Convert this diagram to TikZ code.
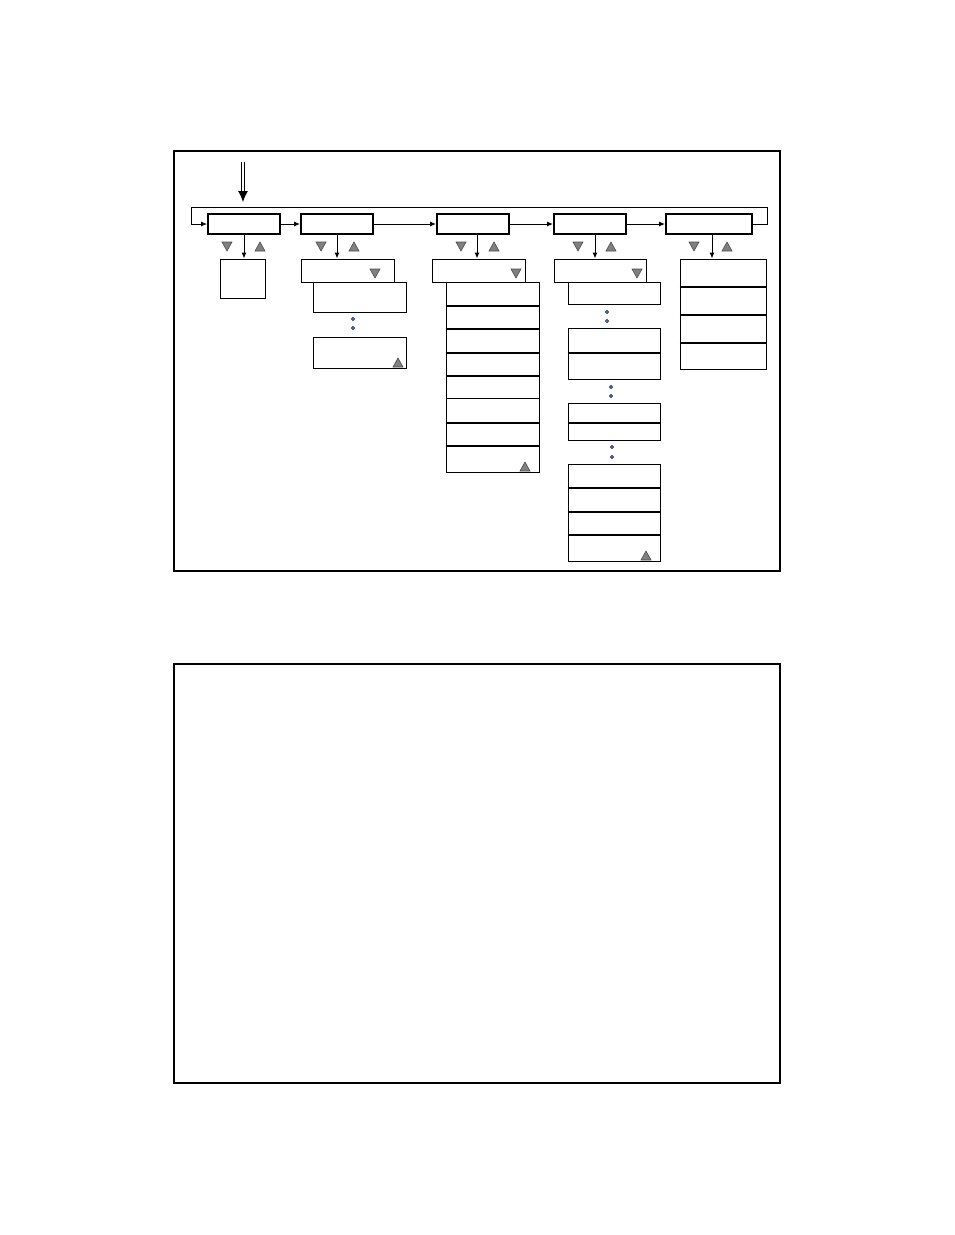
\documentclass[tikz,border=0pt]{standalone}
\usepackage{tikz}
\usetikzlibrary{arrows.meta}

\definecolor{trigray}{RGB}{128,128,128}
\definecolor{dotblue}{RGB}{70,100,170}

\tikzset{
  topbox/.style={draw, line width=2pt, inner sep=0pt},
  cell/.style={draw, line width=1pt, inner sep=0pt},
  divider/.style={line width=2pt},
  arr/.style={-{Latex[length=6pt,width=5pt]}, line width=1pt},
  tri/.style={fill=trigray, draw=black!70, line width=0.6pt},
  dot/.style={circle, fill=dotblue, draw=dotblue!60!black, line width=0.4pt, inner sep=0pt, minimum size=3.6pt},
}

% box node from its corners: style, name, x1, y1, x2, y2
\newcommand{\boxnode}[6]{%
  \node[#1, minimum width={(#5-#3)*1pt}, minimum height={(#6-#4)*1pt}] (#2) at ({(#3+#5)/2},{(#4+#6)/2}) {};}
% small grey triangles: x centre, top y
\newcommand{\tridown}[2]{\filldraw[tri] ({#1-5},{#2}) -- ({#1+5},{#2}) -- ({#1},{#2+9}) -- cycle;}
\newcommand{\triup}[2]{\filldraw[tri] ({#1-5},{#2+9}) -- ({#1+5},{#2+9}) -- ({#1},{#2}) -- cycle;}

\begin{document}
\begin{tikzpicture}[x=1pt,y=-1pt]
    \useasboundingbox (0,0) rectangle (954,1235);
    % frames
    \draw[line width=2pt] (174,151) rectangle (780,571);
    \draw[line width=2pt] (174,664) rectangle (780,1083);

    % top row
    \boxnode{topbox}{top1}{208}{214}{280}{234}
    \boxnode{topbox}{top2}{301}{214}{373}{234}
    \boxnode{topbox}{top3}{437}{214}{509}{234}
    \boxnode{topbox}{top4}{554}{214}{626}{234}
    \boxnode{topbox}{top5}{666}{214}{752}{234}
    \draw[arr] (top1) -- (top2);
    \draw[arr] (top2) -- (top3);
    \draw[arr] (top3) -- (top4);
    \draw[arr] (top4) -- (top5);

    % loop back and entry
    \coordinate (loopR) at (767,207);
    \coordinate (loopL) at (191,207);
    \draw[arr, line width=0.8pt] (top5.east) -| (loopR) -- (loopL) |- (top1.west);
    \coordinate (entry) at (243,162);
    \coordinate (entryend) at (243,202);
    \draw[double, double distance=2.2pt, line width=0.9pt, -{Latex[length=11pt,width=10pt]}] (entry) -- (entryend);

    % column 1
    \boxnode{cell}{sub1}{220}{259}{265}{298}
    \draw[arr] (top1.south) -- (top1.south |- sub1.north);
    \tridown{227}{242} \triup{260}{242}

    % column 2
    \boxnode{cell}{head2}{301}{259}{394}{282}
    \boxnode{cell}{sub2a}{313}{282}{406}{312}
    \boxnode{cell}{sub2b}{313}{337}{406}{368}
    \node[dot] (d2a) at (353,319) {};
    \node[dot] (d2b) at (353,328) {};
    \draw[arr] (top2.south) -- (top2.south |- head2.north);
    \tridown{321}{242} \triup{354}{242}
    \tridown{375}{269} \triup{398}{358}

    % column 3
    \boxnode{cell}{head3}{432}{259}{525}{282}
    \foreach \i/\a/\b in {1/282/305, 2/305/328, 3/328/352, 4/352/375,
                          5/375/398, 6/398/422, 7/422/445, 8/445/472}
      {\boxnode{cell}{c3-\i}{446}{\a}{539}{\b}}
    \foreach \i in {1,2,3,4,6,7}
      {\draw[divider] (c3-\i.south west) -- (c3-\i.south east);}
    \draw[arr] ([xshift=4pt]top3.south) -- ([xshift=4pt]top3.south |- head3.north);
    \tridown{461}{242} \triup{494}{242}
    \tridown{516}{269} \triup{525}{462}

    % column 4
    \boxnode{cell}{head4}{554}{259}{646}{282}
    \foreach \i/\a/\b in {1/282/304, 2/328/352, 3/352/379, 4/403/422, 5/422/440,
                          6/464/487, 7/487/511, 8/511/534, 9/534/561}
      {\boxnode{cell}{c4-\i}{568}{\a}{660}{\b}}
    \foreach \i in {2,4,6,7,8}
      {\draw[divider] (c4-\i.south west) -- (c4-\i.south east);}
    \node[dot] (d4a) at (607,312) {};
    \node[dot] (d4b) at (607,321) {};
    \node[dot] (d4c) at (611,387) {};
    \node[dot] (d4d) at (611,396) {};
    \node[dot] (d4e) at (612,447) {};
    \node[dot] (d4f) at (612,457) {};
    \draw[arr] ([xshift=5pt]top4.south) -- ([xshift=5pt]top4.south |- head4.north);
    \tridown{578}{242} \triup{611}{242}
    \tridown{637}{269} \triup{646}{551}

    % column 5
    \foreach \i/\a/\b in {1/259/286, 2/286/314, 3/314/342, 4/342/369}
      {\boxnode{cell}{c5-\i}{680}{\a}{766}{\b}}
    \foreach \i in {1,2,3}
      {\draw[divider] (c5-\i.south west) -- (c5-\i.south east);}
    \draw[arr] ([xshift=3pt]top5.south) -- ([xshift=3pt]top5.south |- c5-1.north);
    \tridown{694}{242} \triup{727}{242}
\end{tikzpicture}
\end{document}
